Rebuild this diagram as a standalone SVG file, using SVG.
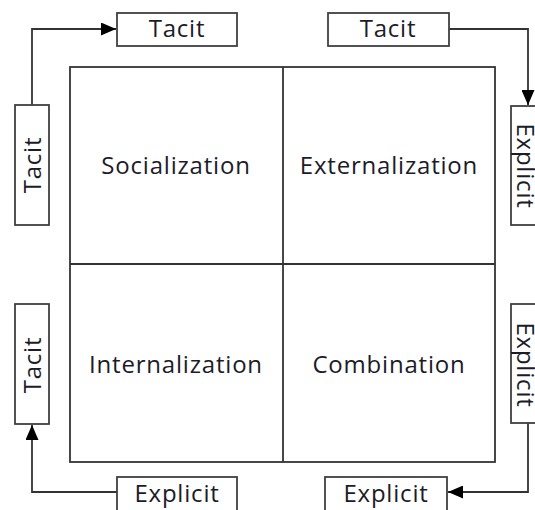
<svg xmlns="http://www.w3.org/2000/svg" width="535" height="510" viewBox="0 0 535 510">
<style>
.box{fill:#fff;stroke:#404040;stroke-width:1.8}
.grid{fill:none;stroke:#333;stroke-width:1.8}
.conn{fill:none;stroke:#333;stroke-width:1.8}
text{font-family:"Open Sans","Noto Sans","DejaVu Sans",sans-serif;fill:#1c1c28;text-anchor:middle;font-size:24px;letter-spacing:0.8px}
</style>
<defs>
<marker id="ah" markerWidth="15" markerHeight="13" refX="15" refY="6.5" orient="auto" markerUnits="userSpaceOnUse" viewBox="0 0 15 13">
<path d="M0,0 L15,6.5 L0,13 Z" fill="#000"/>
</marker>
</defs>
<g id="matrix">
<rect class="grid" x="70" y="67" width="425" height="395"/>
<line class="grid" x1="283" y1="67" x2="283" y2="462"/>
<line class="grid" x1="70" y1="264" x2="495" y2="264"/>
<text x="176" y="174">Socialization</text>
<text x="389" y="174">Externalization</text>
<text x="176" y="373">Internalization</text>
<text x="389" y="373">Combination</text>
</g>
<g id="connectors">
<path class="conn" d="M32,105 V29 H116" marker-end="url(#ah)"/>
<path class="conn" d="M449,29 H528 V105" marker-end="url(#ah)"/>
<path class="conn" d="M528,423 V492 H448" marker-end="url(#ah)"/>
<path class="conn" d="M117,492 H32 V425" marker-end="url(#ah)"/>
</g>
<g id="tacit-top-left">
<rect class="box" x="117" y="13" width="120" height="33"/>
<text x="177" y="37">Tacit</text>
</g>
<g id="tacit-top-right">
<rect class="box" x="328" y="13" width="121" height="33"/>
<text x="388" y="37">Tacit</text>
</g>
<g id="tacit-left-top">
<rect class="box" x="15" y="105" width="34" height="120"/>
<text transform="translate(41,165) rotate(-90)">Tacit</text>
</g>
<g id="explicit-right-top">
<rect class="box" x="511" y="106" width="40" height="119"/>
<text transform="translate(517,166) rotate(90)">Explicit</text>
</g>
<g id="tacit-left-bottom">
<rect class="box" x="15" y="304" width="34" height="120"/>
<text transform="translate(41,365) rotate(-90)">Tacit</text>
</g>
<g id="explicit-right-bottom">
<rect class="box" x="511" y="304" width="40" height="119"/>
<text transform="translate(517,365) rotate(90)">Explicit</text>
</g>
<g id="explicit-bottom-right">
<rect class="box" x="325" y="477" width="122" height="40"/>
<text x="386" y="502">Explicit</text>
</g>
<g id="explicit-bottom-left">
<rect class="box" x="117" y="477" width="120" height="40"/>
<text x="177" y="502">Explicit</text>
</g>
</svg>
